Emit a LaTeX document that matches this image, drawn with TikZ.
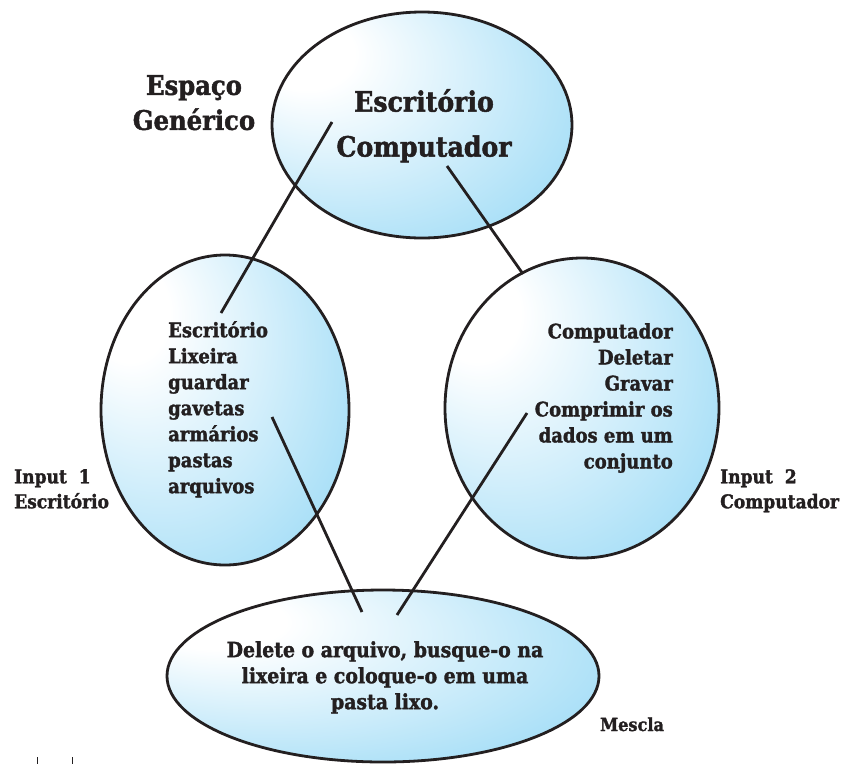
\documentclass[tikz,border=0pt]{standalone}
\usepackage{fontspec}
\setmainfont{DejaVu Serif Condensed}[BoldFeatures={FakeBold=1.6}]
\usetikzlibrary{shapes.geometric}

\definecolor{ink}{RGB}{35,31,32}
\definecolor{bubbleblue}{RGB}{92,195,240}
\pgfdeclareradialshading{bubbleshade}{\pgfpoint{-22bp}{18bp}}{color(0bp)=(white); color(8bp)=(white); color(64bp)=(bubbleblue)}

\begin{document}
\begin{tikzpicture}[x=1pt,y=-1pt,
    bubble/.style ={ellipse, draw=ink, line width=2.8pt, shading=bubbleshade, inner sep=0pt},
    link/.style ={draw=ink, line width=2.8pt},
    words/.style ={text=ink, inner sep=0pt, font=\bfseries\fontsize{20}{26}\selectfont}]
   \useasboundingbox (0,0) rectangle (846,764);
   % the four circles
   \node[bubble, minimum width=300, minimum height=226] (generic) at (422,125) {};
   \node[bubble, minimum width=248, minimum height=310] (input1)  at (225,410) {};
   \node[bubble, minimum width=274, minimum height=300] (input2)  at (582,408) {};
   \node[bubble, minimum width=432, minimum height=172] (blend)   at (383,676) {};
   % texts
   \node[words, font=\bfseries\fontsize{27}{35}\selectfont, align=center, anchor=north] (genericname) at (194,75) {Espaço\\Genérico};
   \node[words, font=\bfseries\fontsize{28}{45}\selectfont, align=center, anchor=north] (generictext) at (424,89) {Escritório\\Computador};
   \node[words, align=left, anchor=north west] (input1text) at (168,321) {Escritório\\Lixeira\\guardar\\gavetas\\armários\\pastas\\arquivos};
   \node[words, align=right, anchor=north east] (input2text) at (673,323) {Computador\\Deletar\\Gravar\\Comprimir os\\dados em um\\conjunto};
   \node[words, font=\bfseries\fontsize{21}{26}\selectfont, align=center, anchor=north] (blendtext) at (385,641) {Delete o arquivo, busque-o na\\lixeira e coloque-o em uma\\pasta lixo.};
   \node[words, font=\bfseries\fontsize{19}{25}\selectfont, align=left, anchor=north west] (input1name) at (14,469) {Input~~1\\Escritório};
   \node[words, font=\bfseries\fontsize{19}{25}\selectfont, align=left, anchor=north west] (input2name) at (720,469) {Input~~2\\Computador};
   \node[words, font=\bfseries\fontsize{18}{24}\selectfont, anchor=base west] (blendname) at (600,731) {Mescla};
   % connector ends
   \coordinate (g1) at (332,122);
   \coordinate (g2) at (447,166);
   \coordinate (i1a) at (221,313);
   \coordinate (i1b) at (272,417);
   \coordinate (i2a) at (523,274);
   \coordinate (i2b) at (527,413);
   \coordinate (b1) at (362,612);
   \coordinate (b2) at (397,615);
   \draw[link] (i1a) -- (g1);
   \draw[link] (g2) -- (i2a);
   \draw[link] (i1b) -- (b1);
   \draw[link] (b2) -- (i2b);
   % little marks at the foot
   \draw[ink, line width=1pt] (37,757) -- (37,764);
   \draw[ink, line width=1pt] (72,757) -- (72,764);
\end{tikzpicture}
\end{document}
